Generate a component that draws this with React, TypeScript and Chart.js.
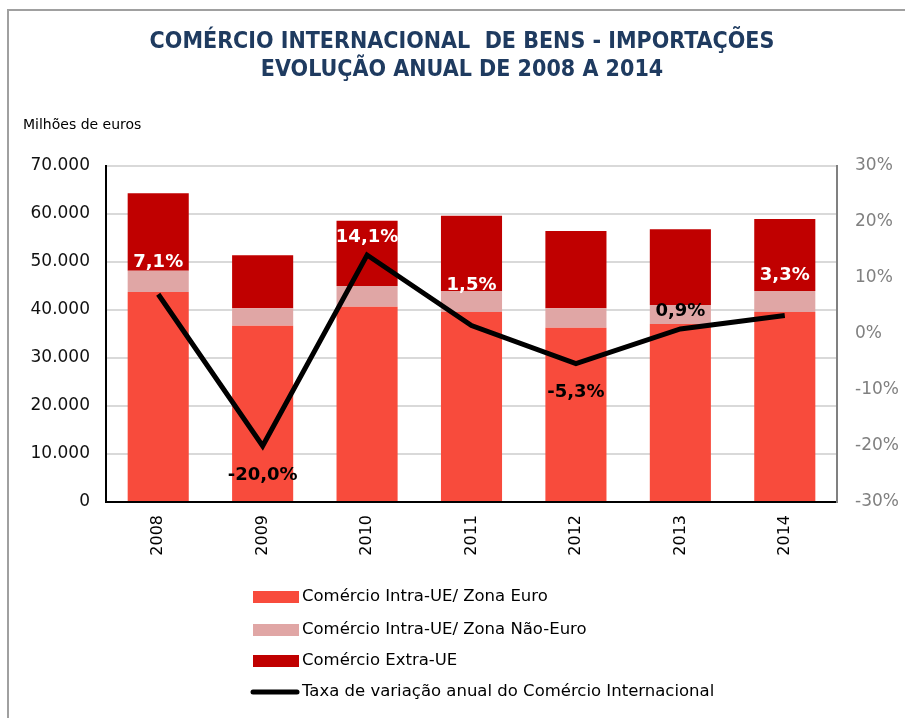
import { useEffect, useRef } from 'react';
import { Chart, registerables } from 'chart.js';

Chart.register(...registerables);

// ---- Data ----
const categories = ['2008', '2009', '2010', '2011', '2012', '2013', '2014'];
const intraEuro = [43750, 36730, 40690, 39580, 36320, 37080, 39580];
const intraNonEuro = [4440, 3620, 4310, 4380, 4030, 3960, 4380];
const extraUE = [16110, 11050, 13600, 15690, 16110, 15760, 15000];
const growthRate = [7.1, -20.0, 14.1, 1.5, -5.3, 0.9, 3.3];

const seriesNames = [
  'Comércio Intra-UE/ Zona Euro',
  'Comércio Intra-UE/ Zona Não-Euro',
  'Comércio Extra-UE',
  'Taxa de variação anual do Comércio Internacional',
];
const titleLines = ['COMÉRCIO INTERNACIONAL  DE BENS - IMPORTAÇÕES', 'EVOLUÇÃO ANUAL DE 2008 A 2014'];
const unitLabel = 'Milhões de euros';

// ---- Styles ----
const COLORS = ['#F84B3C', '#E0A6A5', '#C00000', '#000000'];
const labelOffsets = [-32, 29, -18, -40, 29, -18, -40];
const labelColors = ['#ffffff', '#000000', '#ffffff', '#ffffff', '#000000', '#000000', '#ffffff'];

const fmtPct = (v: number) => v.toFixed(1).replace('.', ',') + '%';
const fmtThousands = (v: number) => {
  const s = Math.round(v).toString();
  return s.replace(/\B(?=(\d{3})+(?!\d))/g, '.');
};

const decorPlugin = {
  id: 'decor',
  beforeDraw(chart: any) {
    const ctx = chart.ctx;
    ctx.save();
    ctx.fillStyle = '#ffffff';
    ctx.fillRect(0, 0, chart.width, chart.height);
    // frame
    ctx.strokeStyle = '#a0a0a0';
    ctx.lineWidth = 2;
    ctx.beginPath();
    ctx.moveTo(8, chart.height);
    ctx.lineTo(8, 10);
    ctx.lineTo(chart.width, 10);
    ctx.stroke();
    // title
    ctx.fillStyle = '#1F3B60';
    ctx.font = 'bold 23px "DejaVu Sans Condensed"';
    ctx.textAlign = 'center';
    ctx.textBaseline = 'middle';
    ctx.fillText(titleLines[0], 462, 42);
    ctx.fillText(titleLines[1], 462, 70);
    // unit label
    ctx.fillStyle = '#000000';
    ctx.font = '14px "DejaVu Sans"';
    ctx.textAlign = 'left';
    ctx.fillText(unitLabel, 23, 125);
    ctx.restore();
  },
  afterDatasetsDraw(chart: any) {
    const ctx = chart.ctx;
    const meta = chart.getDatasetMeta(3);
    ctx.save();
    ctx.font = 'bold 18px "DejaVu Sans"';
    ctx.textAlign = 'center';
    ctx.textBaseline = 'middle';
    meta.data.forEach((pt: any, i: number) => {
      ctx.fillStyle = labelColors[i];
      ctx.fillText(fmtPct(growthRate[i]), pt.x, pt.y + labelOffsets[i]);
    });
    ctx.restore();
  },
  afterDraw(chart: any) {
    const ctx = chart.ctx;
    const rows = [597, 630, 661, 692];
    ctx.save();
    ctx.font = '16.5px "DejaVu Sans"';
    ctx.textAlign = 'left';
    ctx.textBaseline = 'middle';
    chart.data.datasets.forEach((ds: any, i: number) => {
      const y = rows[i];
      if (ds.type === 'line') {
        ctx.strokeStyle = ds.borderColor;
        ctx.lineWidth = 5;
        ctx.lineCap = 'round';
        ctx.beginPath();
        ctx.moveTo(253, y);
        ctx.lineTo(297, y);
        ctx.stroke();
      } else {
        ctx.fillStyle = ds.backgroundColor;
        ctx.fillRect(253, y - 6, 46, 12);
      }
      ctx.fillStyle = '#000000';
      ctx.fillText(ds.label, 302, y);
    });
    ctx.restore();
  },
};

export default function App() {
  const ref = useRef<HTMLCanvasElement>(null);
  useEffect(() => {
    document.body.style.margin = '0';
    Chart.defaults.font.family = '"DejaVu Sans"';
    const chart = new Chart(ref.current!, {
      data: {
        labels: categories,
        datasets: [
          { type: 'bar', label: seriesNames[0], data: intraEuro, backgroundColor: COLORS[0], yAxisID: 'y', order: 1, barPercentage: 0.585, categoryPercentage: 1 },
          { type: 'bar', label: seriesNames[1], data: intraNonEuro, backgroundColor: COLORS[1], yAxisID: 'y', order: 1, barPercentage: 0.585, categoryPercentage: 1 },
          { type: 'bar', label: seriesNames[2], data: extraUE, backgroundColor: COLORS[2], yAxisID: 'y', order: 1, barPercentage: 0.585, categoryPercentage: 1 },
          { type: 'line', label: seriesNames[3], data: growthRate, borderColor: COLORS[3], backgroundColor: COLORS[3], borderWidth: 5, pointRadius: 0, tension: 0, yAxisID: 'y1', order: 0, borderJoinStyle: 'miter' },
        ] as any,
      },
      options: {
        responsive: false,
        animation: false,
        devicePixelRatio: 1,
        layout: { padding: { top: 166, left: 0, right: 0, bottom: 0 } },
        plugins: {
          legend: { display: false },
          title: { display: false },
          tooltip: { enabled: false },
        },
        scales: {
          x: {
            stacked: true,
            grid: { display: false },
            border: { color: '#000000', width: 2 },
            ticks: { maxRotation: 90, minRotation: 90, padding: 5, color: '#000000', font: { size: 16 } },
            afterFit: (s: any) => { s.height = 216; },
          },
          y: {
            stacked: true,
            position: 'left',
            min: 0,
            max: 70000,
            grid: { color: '#d9d9d9', lineWidth: 2, drawTicks: false },
            border: { color: '#000000', width: 2 },
            ticks: { stepSize: 10000, padding: 16, color: '#111111', font: { size: 17 }, callback: (v: any) => fmtThousands(Number(v)) },
            afterFit: (s: any) => { s.width = 106; },
          },
          y1: {
            position: 'right',
            min: -30,
            max: 30,
            grid: { display: false, drawTicks: false },
            border: { color: '#808080', width: 2 },
            ticks: { stepSize: 10, padding: 18, color: '#808080', font: { size: 17 }, callback: (v: any) => v + '%' },
            afterFit: (s: any) => { s.width = 68; },
          },
        },
      } as any,
      plugins: [decorPlugin],
    });
    return () => chart.destroy();
  }, []);
  return (
    <div style={{ width: 905, height: 718, position: 'relative' }}>
      <canvas ref={ref} width={905} height={718} style={{ display: 'block' }} />
    </div>
  );
}
